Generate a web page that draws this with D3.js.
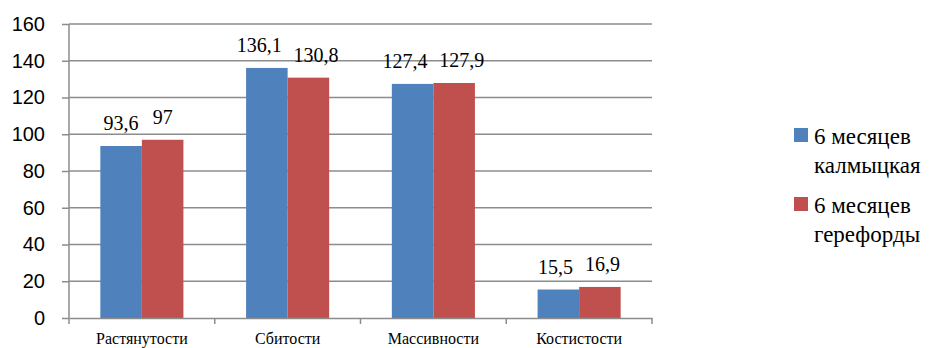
<!DOCTYPE html>
<html>
<head>
<meta charset="utf-8">
<script src="https://cdn.jsdelivr.net/npm/d3@7"></script>
</head>
<body style="margin:0">
<div id="chart"></div>
<script>
// data
const categories = ['Растянутости', 'Сбитости', 'Массивности', 'Костистости'];
const seriesNames = [['6 месяцев', 'калмыцкая'], ['6 месяцев', 'герефорды']];
const kalmyk = [93.6, 136.1, 127.4, 15.5];
const hereford = [97, 130.8, 127.9, 16.9];
const yTicks = [0, 20, 40, 60, 80, 100, 120, 140, 160];
const colors = ['#4F81BD', '#C0504D'];

const serif = 'Liberation Serif';
const sans = 'Liberation Sans';

const width = 938;
const height = 348;
const plot = { left: 69, right: 652, top: 24, bottom: 318 };

const svg = d3.select('#chart').append('svg')
  .attr('width', width)
  .attr('height', height)
  .style('display', 'block');

const series = [kalmyk, hereford];
const rows = categories.map((c, i) => ({ cat: c, values: series.map(s => s[i]) }));

const x0 = d3.scaleBand()
  .domain(categories)
  .range([plot.left, plot.right])
  .paddingInner(0.43)
  .paddingOuter(0.215);

const x1 = d3.scaleBand()
  .domain([0, 1])
  .range([0, x0.bandwidth()]);

const y = d3.scaleLinear()
  .domain([0, 160])
  .range([plot.bottom, plot.top]);

// grid lines
svg.append('g')
  .selectAll('line')
  .data(yTicks.slice(1))
  .join('line')
  .attr('x1', plot.left)
  .attr('x2', plot.right)
  .attr('y1', d => y(d))
  .attr('y2', d => y(d))
  .attr('stroke', '#8c8c8c')
  .attr('stroke-width', 1.5);

// y axis
const yaxis = d3.axisLeft(y).tickValues(yTicks).tickSize(7).tickPadding(17);
svg.append('g')
  .attr('transform', 'translate(' + plot.left + ',0)')
  .call(yaxis)
  .attr('font-family', sans)
  .attr('font-size', 20)
  .call(g => g.select('.domain').remove())
  .call(g => g.selectAll('.tick line').attr('stroke', '#8c8c8c').attr('stroke-width', 1.5))
  .call(g => g.selectAll('.tick text').attr('fill', '#000'));

svg.append('line')
  .attr('x1', plot.left).attr('x2', plot.left)
  .attr('y1', plot.top).attr('y2', plot.bottom)
  .attr('stroke', '#8c8c8c').attr('stroke-width', 1.5);

// bars
const groups = svg.append('g')
  .attr('font-family', serif)
  .attr('font-size', 20)
  .selectAll('g')
  .data(rows)
  .join('g')
  .attr('transform', d => 'translate(' + x0(d.cat) + ',0)');

groups.selectAll('rect')
  .data(d => d.values.map((v, k) => ({ k, v })))
  .join('rect')
  .attr('x', d => x1(d.k))
  .attr('width', x1.bandwidth())
  .attr('y', d => y(d.v))
  .attr('height', d => y(0) - y(d.v))
  .attr('fill', d => colors[d.k]);

// value labels, pushed apart when the pair would touch (like Excel does)
const minGap = 12;
groups.each(function () {
  const labels = d3.select(this).selectAll('text')
    .data(d => d.values.map((v, k) => ({ k, v })))
    .join('text')
    .attr('x', d => x1(d.k) + x1.bandwidth() / 2)
    .attr('y', d => y(d.v) - 16)
    .attr('text-anchor', 'middle')
    .text(d => String(d.v).replace('.', ','));
  const nodes = labels.nodes();
  const w = nodes.map(n => n.getComputedTextLength());
  const c = nodes.map(n => +n.getAttribute('x'));
  const gap = (c[1] - w[1] / 2) - (c[0] + w[0] / 2);
  if (gap < minGap) {
    const shift = (minGap - gap) / 2;
    d3.select(nodes[0]).attr('x', c[0] - shift);
    d3.select(nodes[1]).attr('x', c[1] + shift);
  }
});

// x axis
const xaxis = d3.axisBottom(x0).tickSize(0).tickPadding(12);
svg.append('g')
  .attr('transform', 'translate(0,' + plot.bottom + ')')
  .call(xaxis)
  .attr('font-family', serif)
  .attr('font-size', 16)
  .call(g => g.select('.domain').attr('stroke', '#8c8c8c').attr('stroke-width', 1.5))
  .call(g => g.selectAll('.tick text')
    .attr('fill', '#000')
    .attr('dy', '0.9em'));

// category boundary ticks
const step = x0.step();
svg.append('g')
  .selectAll('line')
  .data(d3.range(categories.length + 1))
  .join('line')
  .attr('x1', i => plot.left + i * step)
  .attr('x2', i => plot.left + i * step)
  .attr('y1', plot.bottom)
  .attr('y2', plot.bottom + 6)
  .attr('stroke', '#8c8c8c')
  .attr('stroke-width', 1.5);

// legend
const legend = svg.append('g')
  .attr('transform', 'translate(794,0)')
  .attr('font-family', serif)
  .attr('font-size', 23);
const legendTop = [128, 197];
seriesNames.forEach((lines, k) => {
  legend.append('rect')
    .attr('x', 0)
    .attr('y', legendTop[k])
    .attr('width', 14)
    .attr('height', 14)
    .attr('fill', colors[k]);
  const t = legend.append('text')
    .attr('x', 20)
    .attr('y', legendTop[k] + 16);
  lines.forEach((l, j) => {
    t.append('tspan')
      .attr('x', 20)
      .attr('dy', j === 0 ? 0 : 29)
      .text(l);
  });
});
</script>
</body>
</html>
